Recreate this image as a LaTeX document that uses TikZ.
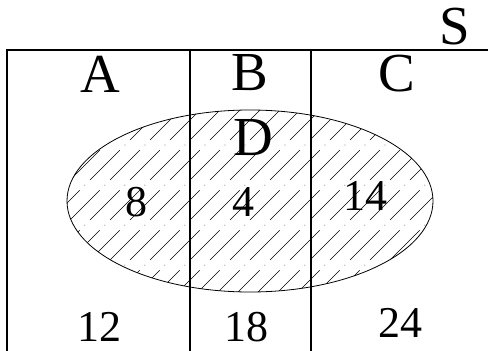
\documentclass[tikz,border=0pt]{standalone}
\usepackage{fontspec}
\setmainfont{Liberation Serif}
\usetikzlibrary{positioning}

\begin{document}
\begin{tikzpicture}[
    x=1pt, y=-1pt,
    frame/.style={line width=1.2pt},
    outline/.style={line width=0.8pt},
    hatch/.style={line width=0.6pt, dash pattern=on 42pt off 7pt on 0.6pt off 7pt},
    setlabel/.style={font=\fontsize{55}{55}\selectfont, inner sep=0pt},
    count/.style={font=\fontsize{44}{44}\selectfont, inner sep=0pt},
]
\useasboundingbox (0,0) rectangle (488,351);

% Set D: hatched ellipse
\begin{scope}
    \clip (250,201) ellipse [x radius=183, y radius=91];
    \foreach \k in {-150,-130,...,450} {
        \draw[hatch] (\k,300) -- ++(200,-200);
    }
\end{scope}
\draw[outline] (250,201) ellipse [x radius=183, y radius=91];

% Universe frame and the three columns
\draw[frame] (7,351) -- (7,50) -- (488,50);
\draw[frame] (190,50) -- (190,351);
\draw[frame] (311,50) -- (311,351);

% Set labels
\node[setlabel] (S) at (455,27) {S};
\node[setlabel] (A) at (100,74) {A};
\node[setlabel] (B) at (250,73) {B};
\node[setlabel] (C) at (397,74) {C};
\node[setlabel] (D) at (253,138) {D};

% Counts inside D
\node[count] (AD) at (136,202) {8};
\node[count] (BD) at (243,202) {4};
\node[count] (CD) at (365,196) {14};

% Counts outside D
\node[count] (An) at (99,327) {12};
\node[count] (Bn) at (246,327) {18};
\node[count] (Cn) at (400,323) {24};

\end{tikzpicture}
\end{document}
